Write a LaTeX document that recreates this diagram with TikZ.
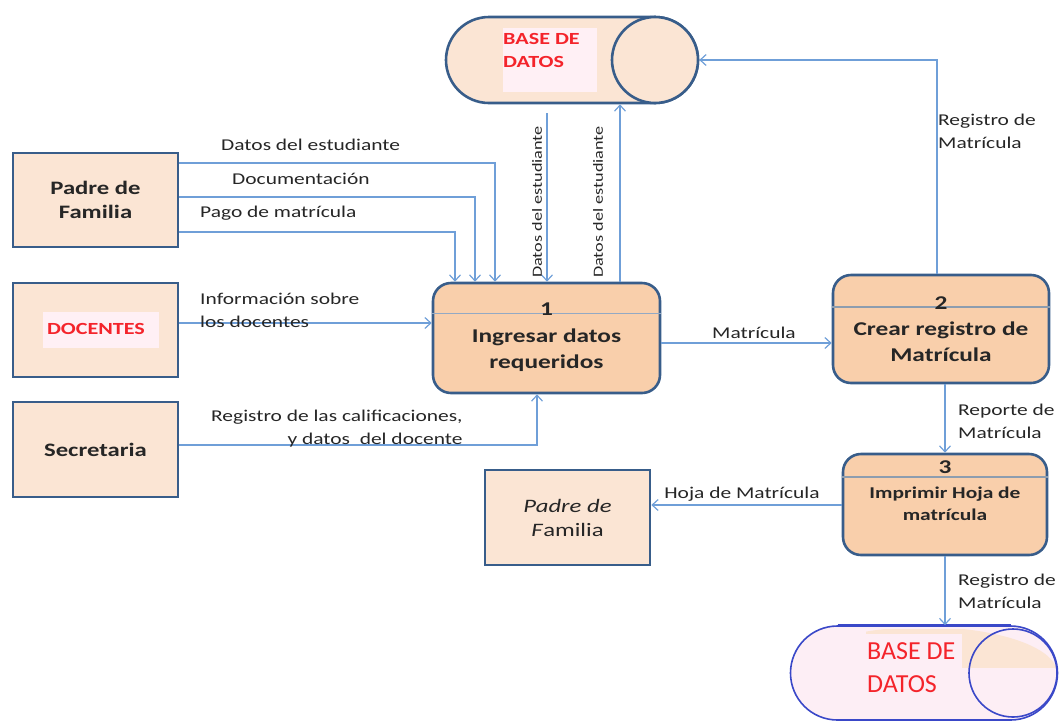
\documentclass[tikz,border=0pt]{standalone}
\usepackage{fontspec}
\setmainfont{Carlito}[FakeStretch=1.3]
\newfontfamily\storefont{Carlito}
\usetikzlibrary{arrows.meta,shapes.misc}

\definecolor{edgeblue}{HTML}{385D8A}
\definecolor{entfill}{HTML}{FBE5D4}
\definecolor{procfill}{HTML}{F9CFAB}
\definecolor{flowblue}{HTML}{6F9FD8}
\definecolor{txt}{HTML}{262626}
\definecolor{dbred}{HTML}{F4242B}
\definecolor{tagpink}{HTML}{FFF0F5}
\definecolor{dbpink}{HTML}{FDEEF5}
\definecolor{dbline}{HTML}{3A48C8}
\definecolor{hdrline}{HTML}{93A9C4}

\tikzset{
  entity/.style={draw=edgeblue, line width=2.6pt, fill=entfill, minimum width=165pt, minimum height=94pt, inner sep=0pt, text=txt, font=\fontsize{19}{24}\selectfont\bfseries, align=center},
  process/.style={draw=edgeblue, line width=2.6pt, fill=procfill, rounded corners=18pt, inner sep=0pt},
  pill/.style={rounded rectangle, draw=edgeblue, line width=2.6pt, fill=entfill, inner sep=0pt},
  flow/.style={draw=flowblue, line width=1.4pt, -{Straight Barb[length=6pt,width=11pt,line width=1.2pt]}},
  flowlabel/.style={text=txt, font=\fontsize{16.5}{23}\selectfont, inner sep=0pt},
  ptext/.style={text=txt, font=\fontsize{19.5}{26}\selectfont\bfseries, align=center, inner sep=0pt},
  redtag/.style={fill=tagpink, text=dbred, font=\bfseries, inner sep=0pt}
}

\begin{document}
\begin{tikzpicture}[x=1pt,y=-1pt]
\useasboundingbox (0,0) rectangle (1060,721);

% data store at the top
\node[pill, minimum width=252pt, minimum height=86pt] (db1) at (572,60) {};
\node[circle, draw=edgeblue, line width=2.6pt, fill=entfill, minimum size=86pt, inner sep=0pt] (db1c) at (655,60) {};
\node[redtag, minimum width=94pt, minimum height=64pt] (db1bg) at (550,60) {};
\node[text=dbred, font=\fontsize{17}{23}\selectfont\bfseries, align=left, anchor=north west, inner sep=0pt] (db1t) at (503,33) {BASE DE\\DATOS};

% external entities
\node[entity] (pf) at (95.5,200) {Padre de\\Familia};
\node[entity] (doc) at (95.5,330) {};
\node[redtag, minimum width=116pt, minimum height=36pt] (docbg) at (101,330) {};
\node[text=dbred, font=\fontsize{17}{20}\selectfont\bfseries, inner sep=0pt] (doct) at (96,329) {DOCENTES};
\node[entity, minimum height=95pt] (sec) at (95.5,449.5) {Secretaria};
\node[entity, minimum height=95pt, font=\fontsize{19}{24}\selectfont] (pf2) at (567.5,517.5) {\textit{Padre de}\\\textit{F}amilia};

% processes
\node[process, minimum width=227pt, minimum height=110pt] (p1) at (546.5,338) {};
\draw[hdrline, line width=1.2pt] ([yshift=-32pt]p1.north west) -- ([yshift=-32pt]p1.north east);
\node[ptext] (p1n) at (546.5,309) {1};
\node[ptext] (p1t) at (546.5,350) {Ingresar datos\\requeridos};

\node[process, minimum width=216pt, minimum height=108pt] (p2) at (941,329) {};
\draw[hdrline!70!gray, line width=1.6pt] ([yshift=-33pt]p2.north west) -- ([yshift=-33pt]p2.north east);
\node[ptext] (p2n) at (941,303) {2};
\node[ptext] (p2t) at (941,342) {Crear registro de\\Matrícula};

\node[process, minimum width=204pt, minimum height=101pt] (p3) at (945,504.5) {};
\draw[hdrline!70!gray, line width=1.6pt] ([yshift=-24pt]p3.north west) -- ([yshift=-24pt]p3.north east);
\node[ptext] (p3n) at (945,467) {3};
\node[ptext, font=\fontsize{16.5}{22}\selectfont\bfseries] (p3t) at (945,504) {Imprimir Hoja de\\matrícula};

% data store at the bottom
\node[rounded rectangle, draw=dbline, line width=1.6pt, fill=dbpink, minimum width=267pt, minimum height=94pt, inner sep=0pt] (db2) at (924,673) {};
\begin{scope}
  \clip (866,629) rectangle (1058,667);
  \fill[entfill] (db2.center) ellipse (133pt and 46pt);
\end{scope}
\node[circle, draw=dbline, line width=1.6pt, minimum size=88pt, inner sep=0pt] (db2c) at (1013,673) {};
\node[fill=dbpink, minimum width=96pt, minimum height=84pt, inner sep=0pt] (db2bg) at (914,676) {};
\draw[dbline, line width=1.6pt] (db2.north west) -- (db2.north east);
\node[text=dbred, font=\storefont\fontsize{26}{33}\selectfont, align=left, anchor=north west, inner sep=0pt] (db2t) at (867,642) {BASE DE\\DATOS};

% data flows
\draw[flow] (pf.east |- 0,163) -| (495,0 |- p1.north);
\draw[flow] (pf.east |- 0,197) -| (475,0 |- p1.north);
\draw[flow] (pf.east |- 0,232) -| (455,0 |- p1.north);
\draw[flow] (doc.east |- 0,323) -- (p1.west |- 0,323);
\draw[flow] (sec.east |- 0,445) -| (537,0 |- p1.south);
\coordinate (dbout) at (547,113);
\draw[flow] (dbout) -- (dbout |- p1.north);
\draw[flow] (620,0 |- p1.north) -- (620,0 |- db1.south);
\draw[flow] (p1.east |- 0,343) -- (p2.west |- 0,343);
\draw[flow] (937,0 |- p2.north) |- (db1c.east);
\draw[flow] (945,0 |- p2.south) -- (945,0 |- p3.north);
\draw[flow] (p3.west |- 0,505) -- (pf2.east |- 0,505);
\draw[flow] (945,0 |- p3.south) -- (945,0 |- db2.north);

% flow labels
\node[flowlabel, anchor=west] (l1) at (221,145) {Datos del estudiante};
\node[flowlabel, anchor=west] (l2) at (232,179) {Documentación};
\node[flowlabel, anchor=west] (l3) at (200,213) {Pago de matrícula};
\node[flowlabel, anchor=north west, align=left] (l4) at (200,293) {Información sobre\\los docentes};
\node[flowlabel, anchor=north west, align=right] (l5) at (211,410) {Registro de las calificaciones,\\y datos~~del docente};
\node[flowlabel, rotate=90, font=\fontsize{14}{16}\selectfont] (l6) at (537,202) {Datos del estudiante};
\node[flowlabel, rotate=90, font=\fontsize{14}{16}\selectfont] (l7) at (598,202) {Datos del estudiante};
\node[flowlabel, anchor=south] (l8) at (754,339) {Matrícula};
\node[flowlabel, anchor=north west, align=left] (l9) at (938,114) {Registro de\\Matrícula};
\node[flowlabel, anchor=north west, align=left] (l10) at (958,404) {Reporte de\\Matrícula};
\node[flowlabel, anchor=south] (l11) at (742,502) {Hoja de Matrícula};
\node[flowlabel, anchor=north west, align=left] (l12) at (958,574) {Registro de\\Matrícula};
\end{tikzpicture}
\end{document}
